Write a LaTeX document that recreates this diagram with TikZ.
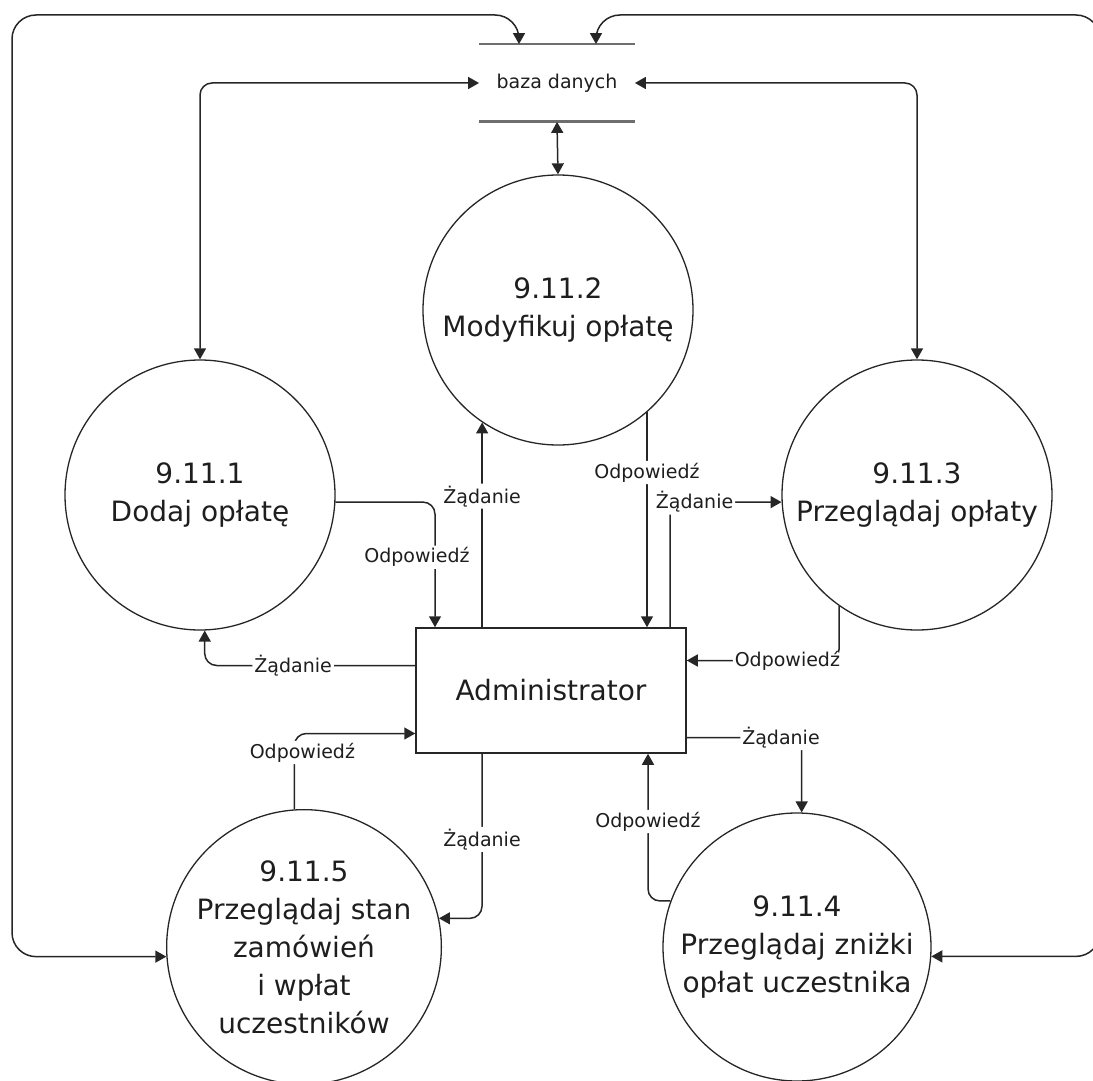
\documentclass[tikz,border=0pt]{standalone}
\usepackage{fontspec}
\setmainfont{DejaVu Sans}
\usetikzlibrary{arrows.meta,calc}
\definecolor{dfdink}{HTML}{1E1E1E}
\definecolor{dfdline}{HTML}{262626}
\definecolor{dfdstore}{HTML}{6E6E6E}
\tikzset{
  procnode/.style={circle, draw=dfdline, line width=.65pt, minimum size=135pt,
    inner sep=0pt, align=center, font=\fontsize{14}{19}\selectfont, text=dfdink},
  entitybox/.style={rectangle, draw=dfdline, line width=.75pt, minimum width=135pt,
    minimum height=62.5pt, font=\fontsize{14}{17}\selectfont, text=dfdink},
  storenode/.style={minimum width=77.5pt, minimum height=38.5pt, inner sep=0pt,
    font=\fontsize{9.5}{11}\selectfont, text=dfdink},
  storeline/.style={draw=dfdstore, line width=1.4pt},
  flowlbl/.style={fill=white, inner sep=1pt, font=\fontsize{9.5}{11}\selectfont, text=dfdink},
  dfdflow/.style={-{Triangle[length=5.5pt,width=6pt]}, draw=dfdline, line width=.75pt,
    rounded corners=6pt},
  dfdboth/.style={dfdflow, {Triangle[length=5.5pt,width=6pt]}-{Triangle[length=5.5pt,width=6pt]}}
}
\begin{document}
\begin{tikzpicture}[x=.5pt,y=-.5pt]
  \useasboundingbox (0,0) rectangle (1093,1081);
  % data store and processes (pixel grid, y downwards)
  \node[storenode] (db) at (557,83) {baza danych};
  \draw[storeline] (db.north west) -- (db.north east);
  \draw[storeline] (db.south west) -- (db.south east);
  \node[procnode] (c1) at (200,495) {9.11.1\\Dodaj opłatę};
  \node[procnode] (c2) at (558,310) {9.11.2\\Modyfikuj opłatę};
  \node[procnode] (c3) at (917,495) {9.11.3\\Przeglądaj opłaty};
  \node[procnode, minimum size=134pt] (c5) at (304,947) {9.11.5\\Przeglądaj stan\\zamówień\\i wpłat\\uczestników};
  \node[procnode, minimum size=134pt] (c4) at (797,947) {9.11.4\\Przeglądaj zniżki\\opłat uczestnika};
  \node[entitybox] (adm) at (551,690.5) {Administrator};
  \coordinate (tl) at (12,15);
  \coordinate (tr) at (1100,15);

  % links to the data store
  \draw[dfdboth, rounded corners=12pt] ($(db.north)+(-38,0)$) |- (tl) |- (c5.184);
  \draw[dfdboth, rounded corners=12pt] ($(db.north)+(39,0)$) |- (tr) |- (c4.-4);
  \draw[dfdboth] (db.west) -| (c1.north);
  \draw[dfdboth] (db.east) -| (c3.north);
  \draw[dfdboth] (db.south) -- (c2.north);

  % requests and answers of the administrator
  \draw[dfdflow] (c1.-3) -| node[flowlbl, pos=.72, xshift=-9pt] {Odpowiedź} ($(adm.north)+(-116,0)$);
  \draw[dfdflow] ($(adm.west)+(0,-25)$) -| node[flowlbl, pos=.29] {Żądanie} (c1.-88);
  \draw[dfdflow] (c2.236 |- adm.north) -- node[flowlbl, pos=.64] {Żądanie} (c2.236);
  \draw[dfdflow] (c2.-49) -- node[flowlbl, pos=.28] {Odpowiedź} (c2.-49 |- adm.north);
  \draw[dfdflow] ($(adm.north)+(119,0)$) |- node[flowlbl, pos=.61] {Żądanie} (c3.183);
  \draw[dfdflow] (c3.235) |- node[flowlbl, pos=.67] {Odpowiedź} ($(adm.east)+(0,-30)$);
  \draw[dfdflow] ($(adm.east)+(0,47)$) -| node[flowlbl, pos=.41] {Żądanie} (c4.88);
  \draw[dfdflow] (c4.160) -| node[flowlbl, pos=.77] {Odpowiedź} ($(adm.south)+(97,0)$);
  \draw[dfdflow] ($(adm.south)+(-69,0)$) |- node[flowlbl, pos=.26] {Żądanie} (c5.12);
  \draw[dfdflow] (c5.94) |- node[flowlbl, pos=.375, xshift=4pt] {Odpowiedź} ($(adm.west)+(0,43)$);
\end{tikzpicture}
\end{document}
